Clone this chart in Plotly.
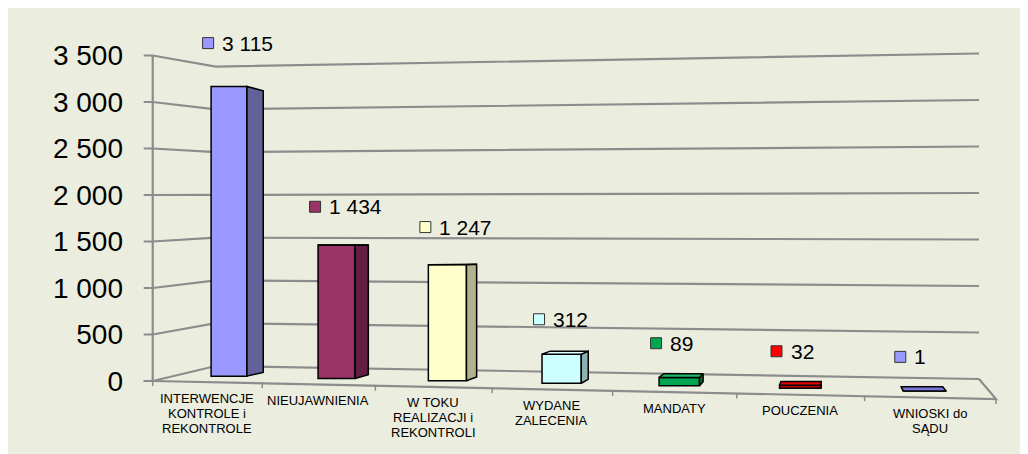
import plotly.graph_objects as go

# ---------------- data ----------------
categories = [
    "INTERWENCJE<br>KONTROLE i<br>REKONTROLE",
    "NIEUJAWNIENIA",
    "W TOKU<br>REALIZACJI i<br>REKONTROLI",
    "WYDANE<br>ZALECENIA",
    "MANDATY",
    "POUCZENIA",
    "WNIOSKI do<br>SĄDU",
]
values = [3115, 1434, 1247, 312, 89, 32, 1]
tick_values = [0, 500, 1000, 1500, 2000, 2500, 3000, 3500]
tick_labels = ["0", "500", "1 000", "1 500", "2 000", "2 500", "3 000", "3 500"]

# ---------------- styles ----------------
front_colors = ["#9999FF", "#993366", "#FFFFCC", "#CCFFFF", "#00A550", "#C00000", "#9999FF"]
side_colors = ["#626299", "#641E44", "#B2B28E", "#8EB2B2", "#006E36", "#800000", "#6A6AC0"]
top_colors = ["#A8A8FF", "#A84477", "#FFFFDD", "#DDFFFF", "#20B866", "#E60000", "#7878DA"]
swatch_colors = ["#9999FF", "#993366", "#FFFFCC", "#CCFFFF", "#00A550", "#FF0000", "#9999FF"]
BG = "#EBEEDF"
GRID = "#8C8C8C"
FONT = "Liberation Sans, Arial, sans-serif"

# ---------------- geometry (layout, figure pixels) ----------------
W, H = 1028, 454
PLOT_L, PLOT_R, PLOT_T, PLOT_B = 135, 997, 0, 454
ORIGIN_PX_X = 199.0      # pixel x of the first category centre
PX_PER_X = 109.5         # pixels per category slot (at the front)
ZERO_PX_Y = 373.0        # pixel y of value 0 at the front-left axis
PX_PER_Y = 0.093         # pixels per unit of value
Q = 0.0167               # perspective widening of slots

x_range = [(PLOT_L - ORIGIN_PX_X) / PX_PER_X, (PLOT_R - ORIGIN_PX_X) / PX_PER_X]
y_range = [-(PLOT_B - ZERO_PX_Y) / PX_PER_Y, (ZERO_PX_Y - PLOT_T) / PX_PER_Y]


def warp(t):
    return t + Q * t * t


def dx(p):
    return p / PX_PER_X


def dy(p):
    return p / PX_PER_Y


n = len(values)
X_FL = warp(-0.5)
X_FR = warp(n - 0.5)
X_BL = X_FL + dx(63)
X_BR = X_FR - dx(17)
FLOOR_DROP = dy(18)


def front_edge_y(x):
    return -FLOOR_DROP * (x - X_FL) / (X_FR - X_FL)


def back_left_y(v):
    return dy(15) + 0.92 * v


def back_right_y(v):
    return dy(2) + v


DEPTH_C = 0.028
VP_X = dx(822 - ORIGIN_PX_X)
VP_Y = dy(ZERO_PX_Y - 237)


def back(x, y):
    return x + DEPTH_C * (VP_X - x), y + DEPTH_C * (VP_Y - y)


shapes = []
# walls: gridlines with a bend at the back-left corner
for v in tick_values:
    path = "M {},{} L {},{} L {},{} L {},{}".format(
        X_FL - dx(9), v, X_FL, v, X_BL, back_left_y(v), X_BR, back_right_y(v))
    shapes.append(dict(type="path", path=path, layer="below",
                       line=dict(color=GRID, width=2.2)))
# front-left vertical axis
shapes.append(dict(type="line", layer="below", x0=X_FL, x1=X_FL,
                   y0=0, y1=tick_values[-1], line=dict(color=GRID, width=2.2)))
# floor front edge and right edge
path = "M {},{} L {},{} L {},{} L {},{}".format(
    X_FL - dx(9), 0, X_FL, 0, X_FR, front_edge_y(X_FR), X_BR, back_right_y(0))
shapes.append(dict(type="path", path=path, layer="below",
                   line=dict(color=GRID, width=2.2)))
# category tick marks on the floor edge
for k in range(-1, n):
    xt = warp(k + 0.5)
    ye = front_edge_y(xt)
    shapes.append(dict(type="line", layer="below", x0=xt, x1=xt,
                       y0=ye, y1=ye - dy(5), line=dict(color=GRID, width=1.5)))

fig = go.Figure()

# bar geometry
centers, widths, bases, lefts, rights = [], [], [], [], []
for i, v in enumerate(values):
    tc = i + 0.2 - 0.04 * i
    xl = warp(tc - 0.1625)
    xr = warp(tc + 0.1625)
    base = front_edge_y(warp(tc)) + dy(6.5)
    centers.append((xl + xr) / 2)
    widths.append(xr - xl)
    bases.append(base)
    lefts.append(xl)
    rights.append(xr)

fig.add_trace(go.Bar(
    x=centers, y=values, base=bases, width=widths,
    marker=dict(color=front_colors, line=dict(color="black", width=1.5)),
    showlegend=False, hoverinfo="skip"))

# side and top faces
for i, v in enumerate(values):
    xl, xr, b = lefts[i], rights[i], bases[i]
    t = b + v
    bx_r, _ = back(xr, t)
    bx_l, _ = back(xl, t)
    if bx_r > xr:
        p1 = back(xr, t)
        p2 = back(xr, b)
        fig.add_trace(go.Scatter(
            x=[xr, xr, p1[0], p2[0], xr], y=[b, t, p1[1], p2[1], b],
            mode="lines", fill="toself", fillcolor=side_colors[i],
            line=dict(color="black", width=1.5), showlegend=False, hoverinfo="skip"))
    elif bx_l < xl:
        p1 = back(xl, t)
        p2 = back(xl, b)
        fig.add_trace(go.Scatter(
            x=[xl, xl, p1[0], p2[0], xl], y=[b, t, p1[1], p2[1], b],
            mode="lines", fill="toself", fillcolor=side_colors[i],
            line=dict(color="black", width=1.5), showlegend=False, hoverinfo="skip"))
    bl = back(xl, t)
    br = back(xr, t)
    if bl[1] > t:
        fig.add_trace(go.Scatter(
            x=[xl, xr, br[0], bl[0], xl], y=[t, t, br[1], bl[1], t],
            mode="lines", fill="toself", fillcolor=top_colors[i],
            line=dict(color="black", width=1.5), showlegend=False, hoverinfo="skip"))

annotations = []
# data labels: swatch + value
sw_x, sw_y = [], []
for i, v in enumerate(values):
    top = bases[i] + v
    sx = lefts[i] - dx(3)
    sy = top + dy(34 + 0.003 * v)
    sw_x.append(sx)
    sw_y.append(sy)
    annotations.append(dict(
        x=sx + dx(12), y=sy, xref="x", yref="y", xanchor="left", yanchor="middle",
        text=f"{v:,}".replace(",", " "), showarrow=False,
        font=dict(family=FONT, size=21, color="black")))
fig.add_trace(go.Scatter(
    x=sw_x, y=sw_y, mode="markers",
    marker=dict(symbol="square", size=11, color=swatch_colors,
                line=dict(color="#333333", width=1)),
    showlegend=False, hoverinfo="skip"))

# category labels
for i, cat in enumerate(categories):
    xc = warp(i)
    ye = front_edge_y(xc)
    for j, line in enumerate(cat.split("<br>")):
        annotations.append(dict(
            x=xc, y=ye - dy(16 + 15 * j), xref="x", yref="y",
            xanchor="center", yanchor="middle", text=line, showarrow=False,
            font=dict(family=FONT, size=13, color="black")))

fig.update_layout(
    width=W, height=H,
    margin=dict(l=PLOT_L, r=W - PLOT_R, t=PLOT_T, b=H - PLOT_B, pad=0),
    paper_bgcolor=BG, plot_bgcolor="rgba(0,0,0,0)",
    shapes=shapes, annotations=annotations,
    xaxis=dict(range=x_range, visible=False, fixedrange=True),
    yaxis=dict(range=y_range, tickvals=tick_values, ticktext=tick_labels,
               showgrid=False, zeroline=False, showline=False, ticks="",
               ticklabelstandoff=19,
               tickfont=dict(family=FONT, size=28, color="black"),
               fixedrange=True),
    showlegend=False,
    font=dict(family=FONT),
)

fig.write_html("out.html")
